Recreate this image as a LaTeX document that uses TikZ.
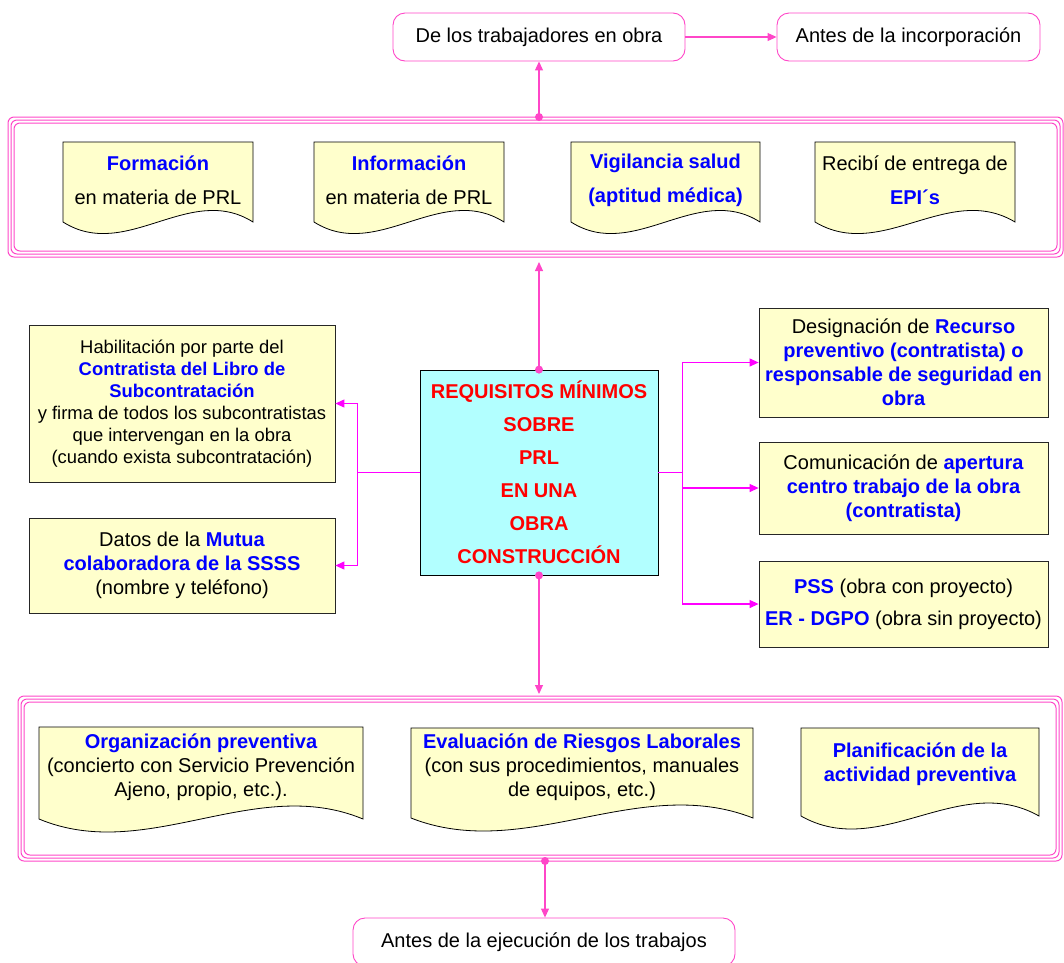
\documentclass[tikz,border=0pt]{standalone}
\usepackage{fontspec}
\setmainfont{Liberation Sans}
\usepackage{tikz}
\usetikzlibrary{arrows.meta}

\definecolor{framepink}{RGB}{255,70,200}
\definecolor{linkpink}{RGB}{255,0,255}
\definecolor{docyellow}{RGB}{255,255,204}
\definecolor{reqcyan}{RGB}{178,255,255}
\definecolor{prlblue}{RGB}{0,0,255}
\definecolor{prlred}{RGB}{255,0,0}

\newcommand{\hl}[1]{\textcolor{prlblue}{\bfseries #1}}

% document shape with wavy bottom: x1, top, x2, bottom, wave
\newcommand{\wavydoc}[5]{%
  \filldraw[docline] (#1,#2) -- (#3,#2) -- (#3,#4)
    .. controls ({#3-(#3-#1)/3},{#4-#5}) and ({#1+(#3-#1)/3},{#4+#5}) .. (#1,#4) -- cycle;}

% triple pink frame
\newcommand{\pinkframe}[4]{%
  \foreach \k in {0,3,6}
    \draw[frameline] ({#1+\k},{#2+\k}) rectangle ({#3-\k},{#4-\k});}

\tikzset{
  every node/.style={align=center, font=\fontsize{20}{24}\selectfont},
  rbox/.style={draw=framepink, line width=0.9pt, rounded corners=12pt, fill=white, minimum height=48},
  sqbox/.style={draw=black!85, line width=0.8pt, fill=docyellow, inner sep=0pt},
  docline/.style={draw=black, line width=0.8pt, fill=docyellow},
  frameline/.style={draw=framepink, line width=1pt, rounded corners=6pt},
  link/.style={draw=linkpink, line width=1.1pt, -{Triangle[length=9pt,width=8pt]}},
  vlink/.style={draw=framepink, line width=1.1pt, -{Triangle[length=9pt,width=8pt]}}
}

\begin{document}
\begin{tikzpicture}[x=1pt,y=-1pt]
  \useasboundingbox (0,0) rectangle (1064,962);

  % Top boxes
  \node[rbox, minimum width=292] (trab) at (539,37) {De los trabajadores en obra};
  \node[rbox, minimum width=263] (antes) at (908.5,37) {Antes de la incorporación};
  \draw[vlink] (trab.east) -- (antes.west);

  % Upper frame
  \pinkframe{8}{117}{1063}{257}
  \coordinate (uptop) at (539,117);
  \coordinate (upbot) at (539,262);

  \wavydoc{63}{142}{253}{222}{40}
  \node (formacion) at (158,180) {\hl{Formación}\\[10pt]en materia de PRL};
  \wavydoc{314}{142}{504}{222}{40}
  \node (informacion) at (409,180) {\hl{Información}\\[10pt]en materia de PRL};
  \wavydoc{571}{142}{760}{222}{40}
  \node (vigilancia) at (665.5,180) {\hl{Vigilancia salud}\\[10pt]\hl{(aptitud médica)}};
  \wavydoc{815}{142}{1015}{222}{40}
  \node (recibi) at (915,180) {Recibí de entrega de\\[10pt]\hl{EPI´s}};

  % Centre
  \node[draw=black, line width=0.8pt, fill=reqcyan, text=prlred, font=\fontsize{20}{24}\selectfont\bfseries,
        minimum width=238, minimum height=205] (req) at (539,472.5)
    {REQUISITOS MÍNIMOS\\[9pt]SOBRE\\[9pt]PRL\\[9pt]EN UNA\\[9pt]OBRA\\[9pt]CONSTRUCCIÓN};

  \draw[vlink] (req.north) -- (upbot);
  \draw[vlink] (uptop) -- (trab.south);
  \fill[framepink] (uptop) circle (4);
  \fill[framepink] (req.north) circle (4);

  % Left side
  \node[sqbox, minimum width=306, minimum height=157, font=\fontsize{18.4}{22}\selectfont] (habil) at (182,403.5)
    {Habilitación por parte del\\\hl{Contratista del Libro de}\\\hl{Subcontratación}\\y firma de todos los subcontratistas\\que intervengan en la obra\\(cuando exista subcontratación)};
  \node[sqbox, minimum width=306, minimum height=95] (datos) at (182,565.5)
    {Datos de la \hl{Mutua}\\\hl{colaboradora de la SSSS}\\(nombre y teléfono)};
  \draw[draw=linkpink, line width=1.1pt] (req.west) -- ++(-62,0) coordinate (lsplit);
  \draw[link] (lsplit) |- (habil.east);
  \draw[link] (lsplit) |- (datos.east);

  % Right side
  \node[sqbox, minimum width=289, minimum height=109] (desig) at (903.5,362.5)
    {Designación de \hl{Recurso}\\\hl{preventivo (contratista) o}\\\hl{responsable de seguridad en}\\\hl{obra}};
  \node[sqbox, minimum width=289, minimum height=92] (comun) at (903.5,488)
    {Comunicación de \hl{apertura}\\\hl{centro trabajo de la obra}\\\hl{(contratista)}};
  \node[sqbox, minimum width=289, minimum height=86] (pss) at (903.5,604)
    {\hl{PSS} (obra con proyecto)\\[8pt]\hl{ER - DGPO} (obra sin proyecto)};
  \draw[draw=linkpink, line width=1.1pt] (req.east) -- ++(24,0) coordinate (rsplit);
  \draw[link] (rsplit) |- (desig.west);
  \draw[link] (rsplit) |- (comun.west);
  \draw[link] (rsplit) |- (pss.west);

  % Lower frame
  \pinkframe{18}{696}{1062}{861}
  \coordinate (lowtop) at (539,694);
  \coordinate (lowbot) at (545,861);
  \draw[vlink] (req.south) -- (lowtop);
  \fill[framepink] (req.south) circle (4);

  \wavydoc{39}{727}{363}{819}{45}
  \node (organiz) at (201,767) {\hl{Organización preventiva}\\(concierto con Servicio Prevención\\Ajeno, propio, etc.).};
  \wavydoc{411}{728}{753}{818}{45}
  \node (evalua) at (582,767) {\hl{Evaluación de Riesgos Laborales}\\(con sus procedimientos, manuales\\de equipos, etc.)};
  \wavydoc{801}{728}{1039}{816}{45}
  \node (planif) at (920,764.5) {\hl{Planificación de la}\\\hl{actividad preventiva}};

  % Bottom box
  \node[rbox, minimum width=382] (ejec) at (544,942) {Antes de la ejecución de los trabajos};
  \draw[vlink] (lowbot) -- (lowbot |- ejec.north);
  \fill[framepink] (lowbot) circle (4);
\end{tikzpicture}
\end{document}
